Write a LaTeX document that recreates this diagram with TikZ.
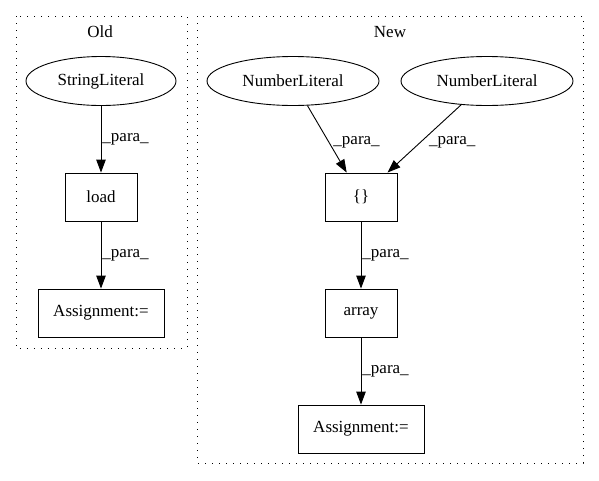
\documentclass[tikz,border=0pt]{standalone}
\usepackage{fontspec}
\setmainfont{Liberation Serif}
\usetikzlibrary{shapes.geometric,arrows.meta}
\tikzset{
	box/.style={draw, line width=0.9pt, rectangle, minimum height=48pt, inner sep=0pt},
	lit/.style={draw, line width=0.9pt, ellipse, minimum height=49pt, inner sep=0pt},
	flow/.style={line width=0.9pt, -{Triangle[length=13pt,width=9.5pt]}},
	lbl/.style={inner sep=0pt, font=\fontsize{17}{20}\selectfont},
	cluster/.style={line width=1pt, dash pattern=on 1.3pt off 5.7pt}
}
\begin{document}
\begin{tikzpicture}[x=1pt, y=-1pt, font=\fontsize{17}{20}\selectfont]
			%%%%% START %%%%%
			\useasboundingbox (0, 0) rectangle (599, 480);
			
			\draw[cluster] (16, 16) rectangle (187, 348);
			\node[lbl] (oldtitle) at (100, 32) {Old};
			
			\draw[cluster] (197, 16) rectangle (583, 463);
			\node[lbl] (newtitle) at (390, 32) {New};
			
			% old
			\node[lit, minimum width=150pt] (strlit) at (101, 81) {StringLiteral};
			\node[box, minimum width=72pt] (load) at (101, 197) {load};
			\node[box, minimum width=126pt] (oldassign) at (101, 313) {Assignment:=};
			
			\draw[flow] (strlit) -- node[lbl, right=1pt] {\_para\_} (load);
			\draw[flow] (load) -- node[lbl, right=1pt] {\_para\_} (oldassign);
			
			% new
			\node[lit, minimum width=172pt] (numlitA) at (293, 81) {NumberLiteral};
			\node[lit, minimum width=172pt] (numlitB) at (487, 81) {NumberLiteral};
			\node[box, minimum width=72pt] (braces) at (361, 197) {\{\}};
			\node[box, minimum width=72pt] (array) at (361, 313) {array};
			\node[box, minimum width=126pt] (newassign) at (361, 429) {Assignment:=};
			
			\draw[flow] (numlitA) -- node[lbl, pos=0.55, right=4pt] {\_para\_} (braces);
			\draw[flow] (numlitB) -- node[lbl, pos=0.55, right=8pt] {\_para\_} (braces);
			\draw[flow] (braces) -- node[lbl, right=1pt] {\_para\_} (array);
			\draw[flow] (array) -- node[lbl, right=1pt] {\_para\_} (newassign);
			
			%%%%% END %%%%%
		\end{tikzpicture}
\end{document}
